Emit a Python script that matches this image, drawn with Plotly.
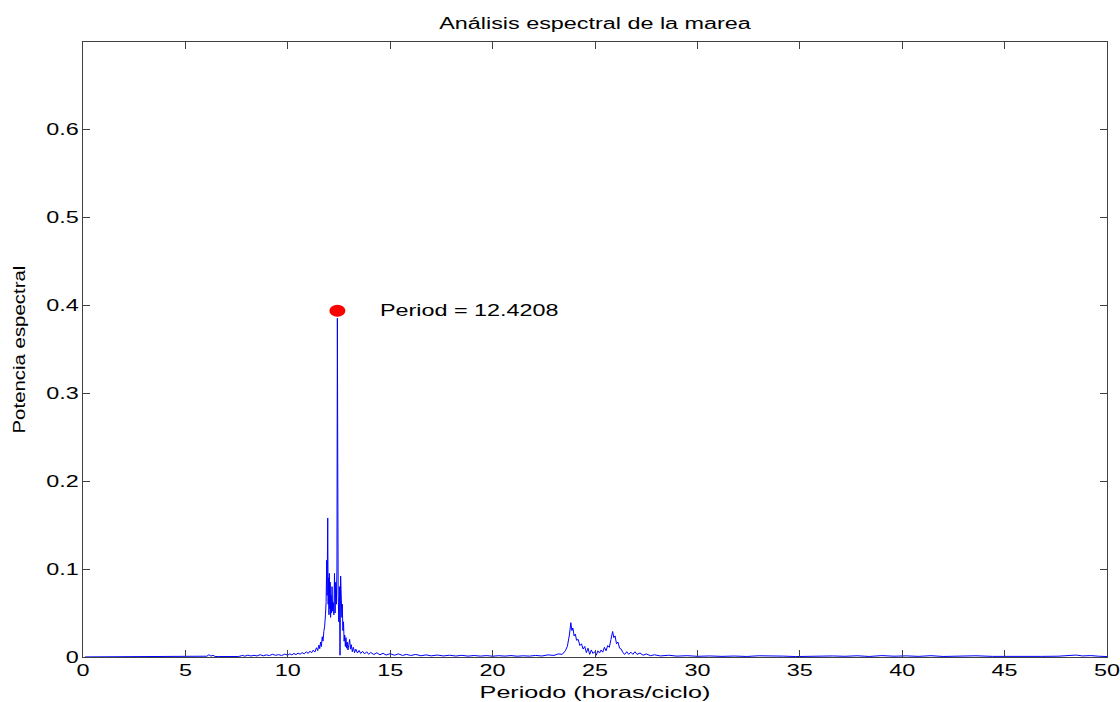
import plotly.graph_objects as go

# ---- data ----
period_low = [0.1, 0.5, 1.0, 1.5, 2.0, 2.5, 3.0, 3.5, 4.0, 4.5, 4.8, 5.0, 5.3, 5.6, 5.9,
              6.05, 6.15, 6.25, 6.35, 6.45, 6.6, 6.8, 7.0]
power_low = [0.0001, 0.0001, 0.0002, 0.0001, 0.0002, 0.0002, 0.0002, 0.0003, 0.0002, 0.0003, 0.0007, 0.0003,
             0.0004, 0.0003, 0.0006, 0.0009, 0.0026, 0.0010, 0.0019, 0.0006, 0.0005, 0.0004, 0.0006]

period_rise = [7.2, 7.4, 7.6, 7.8, 7.9, 8.05, 8.2, 8.35, 8.5, 8.65, 8.8, 8.95, 9.1, 9.25, 9.4, 9.55, 9.7, 9.85,
               10.0, 10.1, 10.2, 10.3, 10.4, 10.5, 10.6, 10.7, 10.8, 10.9, 11.0, 11.08, 11.16, 11.24, 11.32,
               11.4, 11.46, 11.52]
power_rise = [0.0005, 0.0009, 0.0006, 0.0018, 0.0009, 0.0021, 0.0011, 0.0019, 0.0012, 0.0026, 0.0014, 0.0024,
              0.0016, 0.0031, 0.0019, 0.0027, 0.0017, 0.0032, 0.0021, 0.0036, 0.0024, 0.0040, 0.0027, 0.0044,
              0.0031, 0.0050, 0.0036, 0.0058, 0.0041, 0.0067, 0.0048, 0.0078, 0.0056, 0.0105, 0.0072, 0.0135]

period_semi = [11.56, 11.6, 11.64, 11.68, 11.72, 11.76, 11.8, 11.84, 11.87, 11.9, 11.92, 11.95, 11.97, 11.99,
               12.01, 12.03, 12.05, 12.07, 12.09, 12.11, 12.13, 12.16, 12.19, 12.22, 12.25, 12.28, 12.31, 12.34,
               12.37, 12.40, 12.42, 12.44, 12.46, 12.49, 12.52, 12.55, 12.58, 12.60, 12.62, 12.64, 12.66, 12.69,
               12.72, 12.75, 12.78, 12.81, 12.84, 12.87, 12.90, 12.94, 12.98]
power_semi = [0.0095, 0.0170, 0.0120, 0.0230, 0.0180, 0.0290, 0.0350, 0.0480, 0.0620, 0.1100, 0.0700, 0.1580,
              0.0600, 0.0900, 0.0480, 0.0950, 0.0550, 0.0850, 0.0450, 0.0700, 0.0500, 0.0800, 0.0520, 0.0620,
              0.0480, 0.0950, 0.0500, 0.0850, 0.0600, 0.1000, 0.3850, 0.2150, 0.0700, 0.0400, 0.0800, 0.0020,
              0.0920, 0.0550, 0.0800, 0.0450, 0.0600, 0.0300, 0.0400, 0.0180, 0.0250, 0.0120, 0.0220, 0.0100,
              0.0170, 0.0080, 0.0140]

period_mid = [13.02, 13.06, 13.1, 13.15, 13.2, 13.26, 13.32, 13.4, 13.48, 13.56, 13.65, 13.75, 13.85, 13.95,
              14.05, 14.2, 14.35, 14.5, 14.65, 14.8, 15.0, 15.2, 15.4, 15.6, 15.8, 16.0, 16.25, 16.5, 16.75,
              17.0, 17.3, 17.6, 17.9, 18.2, 18.5, 18.8, 19.1, 19.4, 19.7, 20.0, 20.3, 20.6, 20.9, 21.2, 21.5,
              21.8, 22.1, 22.4, 22.7, 23.0]
power_mid = [0.0200, 0.0090, 0.0140, 0.0060, 0.0110, 0.0050, 0.0090, 0.0045, 0.0075, 0.0040, 0.0065, 0.0035,
             0.0060, 0.0030, 0.0052, 0.0028, 0.0048, 0.0025, 0.0042, 0.0022, 0.0038, 0.0020, 0.0035, 0.0018,
             0.0030, 0.0017, 0.0029, 0.0014, 0.0024, 0.0013, 0.0022, 0.0012, 0.0020, 0.0011, 0.0019, 0.0010,
             0.0017, 0.0010, 0.0016, 0.0009, 0.0015, 0.0010, 0.0016, 0.0009, 0.0014, 0.0010, 0.0018, 0.0011,
             0.0024, 0.0018]

period_diurnal = [23.2, 23.4, 23.55, 23.65, 23.75, 23.82, 23.87, 23.92, 23.98, 24.04, 24.1, 24.18, 24.26, 24.34,
                  24.42, 24.5, 24.58, 24.66, 24.74, 24.82, 24.9, 24.98, 25.06, 25.14, 25.22, 25.3, 25.38, 25.46,
                  25.54, 25.62, 25.7, 25.78, 25.86, 25.92, 25.98, 26.05, 26.12, 26.2, 26.28, 26.36, 26.45, 26.55,
                  26.65, 26.75, 26.85, 26.95, 27.05, 27.2, 27.35, 27.5, 27.7, 27.9]
power_diurnal = [0.0035, 0.0030, 0.0070, 0.0120, 0.0250, 0.0390, 0.0300, 0.0330, 0.0240, 0.0260, 0.0190, 0.0200,
                 0.0130, 0.0150, 0.0090, 0.0120, 0.0050, 0.0100, 0.0030, 0.0080, 0.0040, 0.0060, 0.0020, 0.0070,
                 0.0045, 0.0080, 0.0055, 0.0110, 0.0070, 0.0130, 0.0110, 0.0200, 0.0290, 0.0220, 0.0240, 0.0150,
                 0.0170, 0.0100, 0.0090, 0.0050, 0.0030, 0.0060, 0.0030, 0.0055, 0.0030, 0.0060, 0.0030, 0.0045,
                 0.0020, 0.0035, 0.0015, 0.0025]

period_long = [28.2, 28.6, 29.0, 29.5, 30.0, 30.6, 31.2, 31.8, 32.4, 33.0, 33.6, 34.2, 34.8, 35.4, 36.0, 36.6,
               37.2, 37.8, 38.4, 39.0, 39.6, 40.2, 40.8, 41.4, 42.0, 42.8, 43.6, 44.4, 45.2, 46.0, 46.8, 47.6,
               48.2, 48.5, 48.8, 49.2, 49.6, 50.0]
power_long = [0.0012, 0.0020, 0.0010, 0.0015, 0.0008, 0.0012, 0.0007, 0.0011, 0.0006, 0.0014, 0.0008, 0.0010,
              0.0005, 0.0009, 0.0006, 0.0012, 0.0008, 0.0014, 0.0006, 0.0016, 0.0009, 0.0013, 0.0007, 0.0015,
              0.0006, 0.0008, 0.0014, 0.0007, 0.0005, 0.0008, 0.0007, 0.0009, 0.0014, 0.0022, 0.0012, 0.0016,
              0.0009, 0.0005]

period = period_low + period_rise + period_semi + period_mid + period_diurnal + period_long
power = power_low + power_rise + power_semi + power_mid + power_diurnal + power_long

peak_period = [12.4208]
peak_power = [0.3935]
peak_label = "Period = 12.4208"
label_period = [18.85]

x_ticks = [0, 5, 10, 15, 20, 25, 30, 35, 40, 45, 50]
y_ticks = [0, 0.1, 0.2, 0.3, 0.4, 0.5, 0.6]
y_tick_text = ["0", "0.1", "0.2", "0.3", "0.4", "0.5", "0.6"]

title_text = "Análisis espectral de la marea"
x_title = "Periodo (horas/ciclo)"
y_title = "Potencia espectral"

# ---- styling ----
font = "Liberation Sans, Arial, Helvetica, sans-serif"
axis_color = "#404040"

fig = go.Figure()
fig.add_trace(go.Scatter(x=period, y=power, mode="lines",
                         line=dict(color="#0000ff", width=1), showlegend=False))
fig.add_trace(go.Scatter(x=peak_period, y=peak_power, mode="markers",
                         marker=dict(color="#ff0000", size=11, symbol="circle", line=dict(width=0)),
                         showlegend=False))
# elliptical marker look (wider than tall), anchored at the peak through the data axes
fig.add_shape(type="circle", xref="x", yref="y", xsizemode="pixel", ysizemode="pixel",
              xanchor=peak_period[0], yanchor=peak_power[0], x0=-8, x1=8, y0=-6, y1=6,
              fillcolor="#ff0000", line=dict(width=0))
fig.add_annotation(x=label_period[0], y=peak_power[0], text=peak_label, showarrow=False,
                   xanchor="center", yanchor="middle", font=dict(size=16, color="black", family=font))

# axis titles as annotations for exact placement
fig.add_annotation(x=0.5, y=0, xref="paper", yref="paper", text=x_title, showarrow=False,
                   xanchor="center", yanchor="middle", yshift=-35,
                   font=dict(size=17, color="black", family=font))
fig.add_annotation(x=0, y=0.5, xref="paper", yref="paper", text=y_title, showarrow=False,
                   textangle=-90, xanchor="center", yanchor="middle", xshift=-64,
                   font=dict(size=17, color="black", family=font))

axis_common = dict(showline=True, linecolor=axis_color, linewidth=1, mirror="ticks",
                   ticks="inside", ticklen=7, tickcolor=axis_color, showgrid=False, zeroline=False,
                   automargin=False, tickfont=dict(size=16, color="black", family=font))

fig.update_layout(
    width=1120, height=702,
    margin=dict(l=83, r=13, t=42, b=45),
    paper_bgcolor="white", plot_bgcolor="white",
    title=dict(text=title_text, x=0.5, xref="paper", xanchor="center",
               y=1 - 23 / 702, yref="container", yanchor="middle",
               font=dict(size=16, color="black", family=font)),
    xaxis=dict(range=[0, 50], tickvals=x_ticks, ticktext=[str(v) for v in x_ticks],
               ticklabelstandoff=-1, **axis_common),
    yaxis=dict(range=[0, 0.699], tickvals=y_ticks, ticktext=y_tick_text, **axis_common),
)

# the reference renders its text horizontally widened; mimic with SVG textLength
stretch_js = """
(function(){
  function stretch(){
    var special = {};
    special[%s] = 1.2;
    special[%s] = 1.48;
    document.querySelectorAll('.main-svg text').forEach(function(t){
      if (t.getAttribute('data-stretched')) return;
      var txt = t.textContent;
      if (!txt) return;
      var k = special.hasOwnProperty(txt) ? special[txt] : 1.46;
      var w = t.getComputedTextLength();
      if (!(w > 0)) return;
      t.setAttribute('textLength', (w * k).toFixed(2));
      t.setAttribute('lengthAdjust', 'spacingAndGlyphs');
      t.setAttribute('data-stretched', '1');
    });
  }
  stretch();
})();
""" % (repr(y_title), repr(x_title))

fig.write_html("out.html", post_script=stretch_js)
